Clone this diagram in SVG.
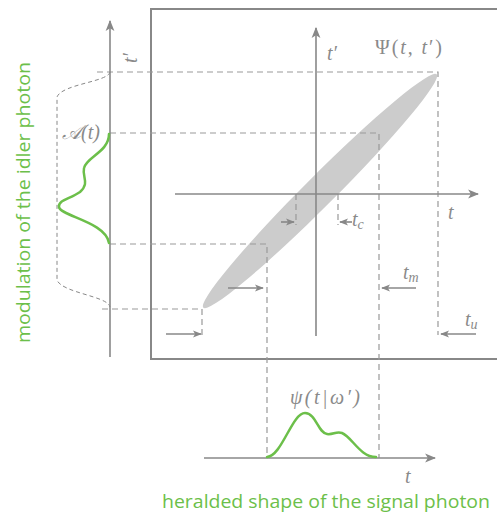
<svg xmlns="http://www.w3.org/2000/svg" width="497" height="514" viewBox="0 0 497 514">
<defs>
<marker id="ah" viewBox="0 0 10 10" refX="9" refY="5" markerWidth="11" markerHeight="11" markerUnits="userSpaceOnUse" orient="auto">
<path d="M0,1 L10,5 L0,9 L2.5,5 Z" fill="#888"/>
</marker>
<marker id="sh" viewBox="0 0 10 10" refX="9" refY="5" markerWidth="9" markerHeight="9" markerUnits="userSpaceOnUse" orient="auto">
<path d="M0,1 L10,5 L0,9 L2.5,5 Z" fill="#888"/>
</marker>
</defs>
<style>
.ax{stroke:#888;stroke-width:1.6;fill:none}
.dash{stroke:#999;stroke-width:1.2;stroke-dasharray:6,4;fill:none}
.brace{stroke:#888;stroke-width:1;stroke-dasharray:4,3;fill:none}
.sa{stroke:#888;stroke-width:1.6;fill:none;marker-end:url(#sh)}
.grn{stroke:#6cbf4a;stroke-width:2.5;fill:none;stroke-linecap:round}
.m{font-family:"Liberation Serif","DejaVu Serif",serif;font-style:italic;font-size:20px;fill:#8a8a8a}
.mu{font-family:"Liberation Serif","DejaVu Serif",serif;font-size:20px;fill:#8a8a8a}
.cap{font-family:"Open Sans","Noto Sans",sans-serif;font-size:19px;fill:#6cbf4a}
</style>
<rect id="frame" x="151" y="9" width="360" height="350" fill="none" stroke="#888" stroke-width="2"/>
<g id="ellipse">
<ellipse cx="320" cy="191" rx="165" ry="15" fill="#cccccc" transform="rotate(-45 320 191)"/>
</g>
<g id="connectors">
<path class="dash" d="M97,72 H438 V335"/>
<path class="dash" d="M110,133 H379 V458"/>
<path class="dash" d="M110,244 H267 V458"/>
<path class="dash" d="M102,309 H202 V339"/>
<path class="dash" d="M296,194 V225"/>
<path class="dash" d="M338,194 V225"/>
<path class="brace" d="M110,72 C108,82 62,84 57,97 V280 C62,293 108,296 110,307"/>
<line class="ax" x1="110" y1="357" x2="110" y2="21" marker-end="url(#ah)"/>
<line class="ax" x1="175" y1="194" x2="478" y2="194" marker-end="url(#ah)"/>
<line class="ax" x1="316" y1="336" x2="316" y2="28" marker-end="url(#ah)"/>
<line class="ax" x1="204" y1="458" x2="435" y2="458" marker-end="url(#ah)"/>
<line class="sa" x1="281" y1="222" x2="294" y2="222"/>
<line class="sa" x1="352" y1="222" x2="340" y2="222"/>
<line class="sa" x1="228" y1="288" x2="263" y2="288"/>
<line class="sa" x1="166" y1="334" x2="201" y2="334"/>
<line class="sa" x1="416" y1="288" x2="382" y2="288"/>
<line class="sa" x1="476" y1="334" x2="441" y2="334"/>
</g>
<g id="idler">
<path class="grn" d="M109,134 C109,152 86,157 84,168 C82,177 90,183 80,192 C70,199 58,200 59,207 C60,216 106,222 109,243"/>
<text class="m" x="62" y="139">𝒜(t)</text>
<text class="m" transform="translate(137,63) rotate(-90)">t′</text>
<text class="cap" transform="translate(30,343) rotate(-90)" textLength="281" lengthAdjust="spacingAndGlyphs">modulation of the idler photon</text>
</g>
<g id="joint">
<text class="m" x="327" y="60">t′</text>
<text class="mu" x="375" y="54" textLength="67" lengthAdjust="spacing">Ψ(<tspan font-style="italic">t</tspan>, <tspan font-style="italic">t</tspan>′)</text>
<text class="m" x="448" y="219">t</text>
<text class="m" x="352" y="226">t<tspan font-size="14" dy="3">c</tspan></text>
<text class="m" x="403" y="279">t<tspan font-size="14" dy="3">m</tspan></text>
<text class="m" x="465" y="326">t<tspan font-size="14" dy="3">u</tspan></text>
</g>
<g id="signal">
<path class="grn" d="M267,457 C282,456 292,413 305,413 C316,413 318,433 327,434 C333,435 336,431 342,433 C352,437 360,457 376,457"/>
<text class="m" x="290" y="404" textLength="70" lengthAdjust="spacing">ψ(t|ω′)</text>
<text class="m" x="405" y="483">t</text>
<text class="cap" x="162" y="508" textLength="328" lengthAdjust="spacingAndGlyphs">heralded shape of the signal photon</text>
</g>
</svg>
